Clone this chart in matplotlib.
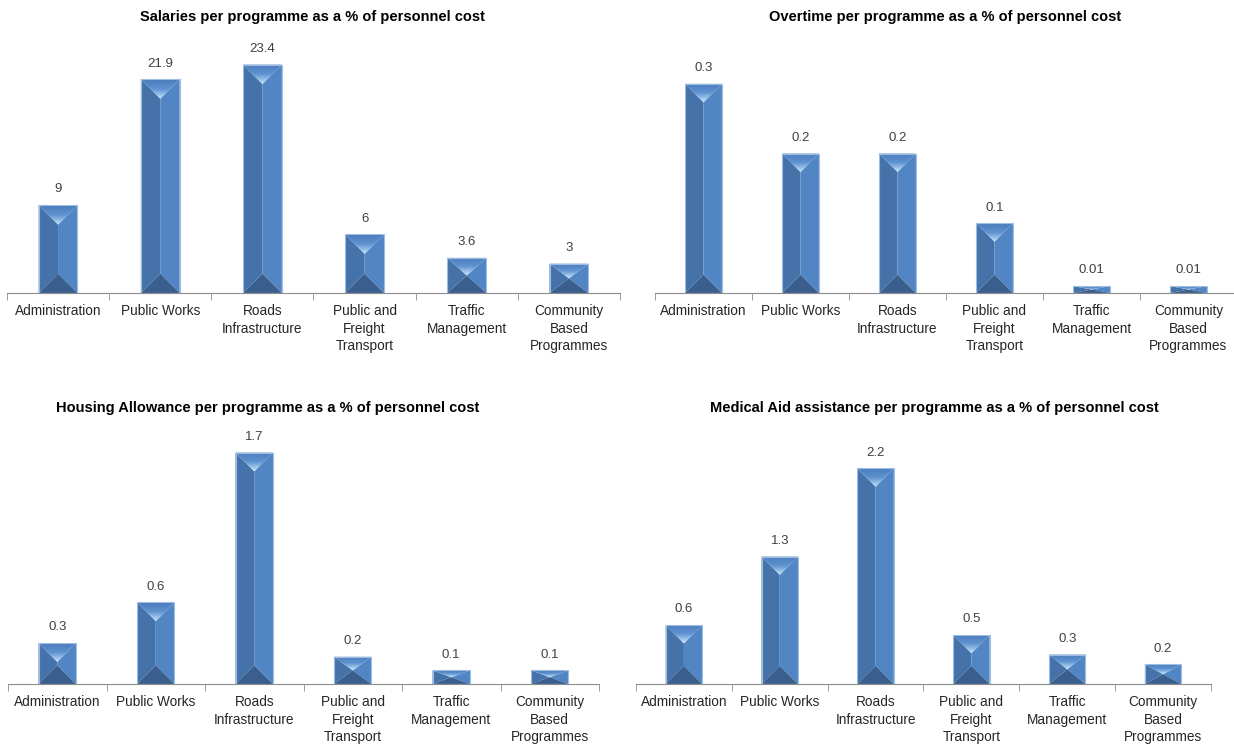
import matplotlib.pyplot as plt
import numpy as np
from matplotlib.patches import Polygon
from matplotlib.colors import LinearSegmentedColormap

plt.rcParams['font.family'] = ['Liberation Sans', 'DejaVu Sans']

programmes = ['Administration', 'Public Works', 'Roads\nInfrastructure',
              'Public and\nFreight\nTransport', 'Traffic\nManagement',
              'Community\nBased\nProgrammes']

salaries = [9, 21.9, 23.4, 6, 3.6, 3]
overtime = [0.3, 0.2, 0.2, 0.1, 0.01, 0.01]
housing = [0.3, 0.6, 1.7, 0.2, 0.1, 0.1]
medical = [0.6, 1.3, 2.2, 0.5, 0.3, 0.2]

labels_salaries = ['9', '21.9', '23.4', '6', '3.6', '3']
labels_overtime = ['0.3', '0.2', '0.2', '0.1', '0.01', '0.01']
labels_housing = ['0.3', '0.6', '1.7', '0.2', '0.1', '0.1']
labels_medical = ['0.6', '1.3', '2.2', '0.5', '0.3', '0.2']

W, H = 1234, 744
fig = plt.figure(figsize=(W / 100, H / 100), dpi=100)

top_cmap = LinearSegmentedColormap.from_list('top', ['#4a7bbb', '#5f93d0', '#c4e3fb'])


def px_axes(x0, x1, ytop, ybase):
    return fig.add_axes([x0 / W, (H - ybase) / H, (x1 - x0) / W, (ybase - ytop) / H])


def bevel_bar(ax, x, h, bw):
    x0, x1 = x - bw / 2, x + bw / 2
    # depth of the top/bottom facets in data units, half the bar width on screen
    p0 = ax.transData.transform((x0, 0))
    p1 = ax.transData.transform((x, 0))
    pu = ax.transData.transform((x, 1))
    d = (p1[0] - p0[0]) / (pu[1] - p0[1])
    d = min(d, h / 2)
    left = Polygon([(x0, 0), (x, d), (x, h - d), (x0, h)], closed=True,
                   facecolor='#4572a8', edgecolor='none')
    right = Polygon([(x1, 0), (x, d), (x, h - d), (x1, h)], closed=True,
                    facecolor='#5185c4', edgecolor='none')
    bottom = Polygon([(x0, 0), (x1, 0), (x, d)], closed=True,
                     facecolor='#3a5f8f', edgecolor='none')
    top = Polygon([(x0, h), (x1, h), (x, h - d)], closed=True,
                  facecolor='none', edgecolor='none')
    for p in (left, right, bottom, top):
        ax.add_patch(p)
    grad = np.linspace(0, 1, 64).reshape(-1, 1)
    im = ax.imshow(grad, extent=[x0, x1, h - d, h], cmap=top_cmap,
                   aspect='auto', origin='upper', zorder=1.5)
    im.set_clip_path(top)
    ax.add_patch(Polygon([(x0, 0), (x1, 0), (x1, h), (x0, h)], closed=True,
                         facecolor='none', edgecolor='#9dbde3', linewidth=0.8,
                         zorder=3))


def panel(ax, values, texts, title, ymax, title_xy):
    n = len(values)
    ax.set_xlim(-0.5, n - 0.5)
    ax.set_ylim(0, ymax)
    bw = 0.38
    for i, (v, t) in enumerate(zip(values, texts)):
        bevel_bar(ax, i, v, bw)
        ax.annotate(t, (i, v), xytext=(0, 7), textcoords='offset points',
                    ha='center', va='bottom', fontsize=9.5, color='#404040')
    ax.set_xlim(-0.5, n - 0.5)
    ax.set_ylim(0, ymax)
    for s in ('top', 'right', 'left'):
        ax.spines[s].set_visible(False)
    ax.spines['bottom'].set_color('#8c8c8c')
    ax.set_yticks([])
    ax.set_xticks(range(n))
    ax.set_xticklabels(programmes, fontsize=9.8, color='#262626', linespacing=1.32)
    ax.tick_params(axis='x', which='major', length=0, pad=8)
    ax.set_xticks(np.arange(n + 1) - 0.5, minor=True)
    ax.tick_params(axis='x', which='minor', length=5, color='#8c8c8c')
    fig.text(title_xy[0] / W, (H - title_xy[1]) / H, title, fontsize=10.5,
             fontweight='bold', ha='center', va='center')


ax1 = px_axes(7, 620, 49, 293)
ax2 = px_axes(655, 1237, 49, 293)
ax3 = px_axes(8, 599, 439, 684)
ax4 = px_axes(636, 1211, 439, 684)

panel(ax1, salaries, labels_salaries,
      'Salaries per programme as a % of personnel cost', 25, (312, 17))
panel(ax2, overtime, labels_overtime,
      'Overtime per programme as a % of personnel cost', 0.35, (945, 17))
panel(ax3, housing, labels_housing,
      'Housing Allowance per programme as a % of personnel cost', 1.8, (268, 408))
panel(ax4, medical, labels_medical,
      'Medical Aid assistance per programme as a % of personnel cost', 2.5, (934, 408))

fig.savefig('out.png', dpi=100)
